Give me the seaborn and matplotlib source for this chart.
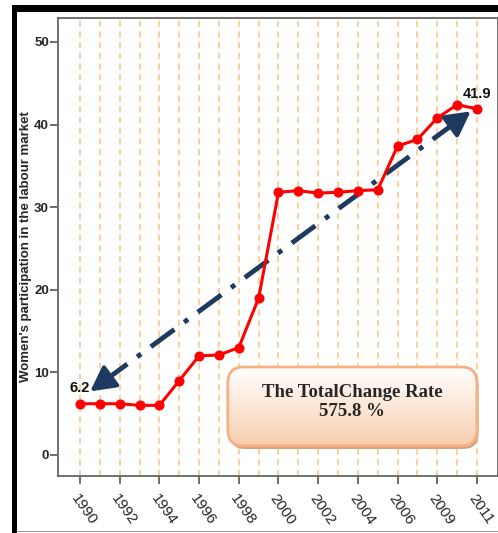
import numpy as np
import pandas as pd
import matplotlib
matplotlib.use("Agg")
import matplotlib.pyplot as plt
import seaborn as sns
from matplotlib.patches import FancyBboxPatch, Rectangle
from matplotlib.colors import LinearSegmentedColormap

# data
years = ['1990', '1991', '1992', '1993', '1994', '1995', '1996', '1997', '1998', '1999',
         '2000', '2001', '2002', '2003', '2004', '2005', '2006', '2007', '2009', '2010', '2011']
participation = [6.2, 6.2, 6.2, 6.0, 6.0, 9.0, 12.0, 12.1, 13.0, 19.0,
                 31.8, 32.0, 31.7, 31.8, 32.0, 32.1, 37.4, 38.2, 40.8, 42.4, 41.9]
y_ticks = [0, 10, 20, 30, 40, 50]

df = pd.DataFrame({'idx': np.arange(len(years)), 'year': years, 'value': participation})

sns.set_style("white")
plt.rcParams['font.family'] = ['Liberation Sans', 'DejaVu Sans']

W, H = 498, 533
fig = plt.figure(figsize=(W / 100, H / 100), dpi=100)
ax = fig.add_axes([58 / W, 1 - 476 / H, (W - 58) / W, (476 - 18) / H])

# orange dashed vertical guides at every year
ax.set_xticks(df['idx'], minor=True)
ax.xaxis.grid(True, which='both', color='#FBC47E', linestyle=(0, (4, 3)), lw=1.1)
ax.set_axisbelow(True)

sns.lineplot(data=df, x='idx', y='value', ax=ax, color='#FF0000', lw=2.2,
             marker='o', markersize=6.5, markeredgecolor='#FF0000', zorder=4)

# dash-dot trend arrow between first and last value
x0, y0 = df['idx'].iloc[0] + 0.4, df['value'].iloc[0] + 1.3
x1, y1 = df['idx'].iloc[-1] - 0.2, df['value'].iloc[-1] - 0.1
slope = (y1 - y0) / (x1 - x0)
navy = '#1F3A60'
ax.plot([x0 + 0.8, x1 - 0.8], [y0 + 0.8 * slope, y1 - 0.8 * slope],
        color=navy, lw=3.5, dashes=(6, 2.5, 1, 2.5), zorder=3)
hs = '-|>,head_length=0.75,head_width=0.4'
ax.annotate('', xy=(x0, y0), xytext=(x0 + 1.2, y0 + 1.2 * slope),
            arrowprops=dict(arrowstyle=hs, color=navy, lw=3, mutation_scale=20), zorder=5)
ax.annotate('', xy=(x1, y1), xytext=(x1 - 1.2, y1 - 1.2 * slope),
            arrowprops=dict(arrowstyle=hs, color=navy, lw=3, mutation_scale=20), zorder=5)

# end labels
for i in [0, len(df) - 1]:
    ax.annotate(f"{df['value'].iloc[i]:.1f}", (df['idx'].iloc[i], df['value'].iloc[i]),
                xytext=(0, 6), textcoords='offset points', ha='center', va='bottom',
                fontsize=10.5, fontweight='bold', color='#111111', zorder=6)

# total change box with gradient fill
bx0, by0, bx1, by1 = 0.386, 0.066, 0.952, 0.238
shadow = FancyBboxPatch((bx0 + 0.004, by0 - 0.007), bx1 - bx0, by1 - by0,
                        boxstyle='round,pad=0,rounding_size=0.035', transform=ax.transAxes,
                        facecolor='#D2A27E', edgecolor='none', zorder=6)
ax.add_patch(shadow)
box = FancyBboxPatch((bx0, by0), bx1 - bx0, by1 - by0,
                     boxstyle='round,pad=0,rounding_size=0.035', transform=ax.transAxes,
                     facecolor='none', edgecolor='#F4B183', lw=2, zorder=8)
ax.add_patch(box)
grad = np.linspace(0, 1, 100).reshape(-1, 1)
cmap = LinearSegmentedColormap.from_list('peach', ['#FFFFFF', '#F8CFAF'])
im = ax.imshow(grad, extent=(bx0, bx1, by0, by1), transform=ax.transAxes, cmap=cmap,
               aspect='auto', zorder=7, origin='upper')
im.set_clip_path(box)
total_change = (participation[-1] - participation[0]) / participation[0] * 100
ax.text((bx0 + bx1) / 2, by1 - 0.077, f"The TotalChange Rate\n{total_change:.1f} %",
        transform=ax.transAxes, ha='center', va='center', fontsize=13.5, fontweight='bold',
        family='Liberation Serif', linespacing=1.12, zorder=9)

# axes
ax.set_xlim(-1.11, 21.06)
ax.set_ylim(-2.55, 52.9)
ax.set_xticks(df['idx'][::2])
ax.set_xticklabels(df['year'][::2], rotation=-55, ha='left', va='top', rotation_mode='anchor',
                   fontsize=11)
ax.set_yticks(y_ticks)
ax.set_yticklabels([str(t) for t in y_ticks], fontsize=9.5, fontweight='bold')
ax.tick_params(axis='both', which='major', length=5.5, width=1.2, color='#555555',
               bottom=True, left=True)
ax.tick_params(axis='x', which='minor', length=0)
ax.tick_params(axis='x', pad=6)
ax.tick_params(axis='y', pad=1)
ax.set_xlabel('')
ax.set_ylabel("Women's participation in the labour market", fontsize=9.5, fontweight='bold')
ax.yaxis.set_label_coords(-0.06, 0.5)
for s in ax.spines.values():
    s.set_color('#666666')
    s.set_linewidth(1.3)

# outer frame
fig.add_artist(Rectangle((12 / W, 1 - 12 / H), 1, 7 / H, transform=fig.transFigure,
                         color='black', lw=0))
fig.add_artist(Rectangle((12 / W, 0), 5 / W, 1 - 5 / H, transform=fig.transFigure,
                         color='black', lw=0))
fig.add_artist(Rectangle((17 / W, 1 / H), 1, 1.2 / H, transform=fig.transFigure,
                         color='#999999', lw=0))

fig.savefig('out.png', dpi=100)
